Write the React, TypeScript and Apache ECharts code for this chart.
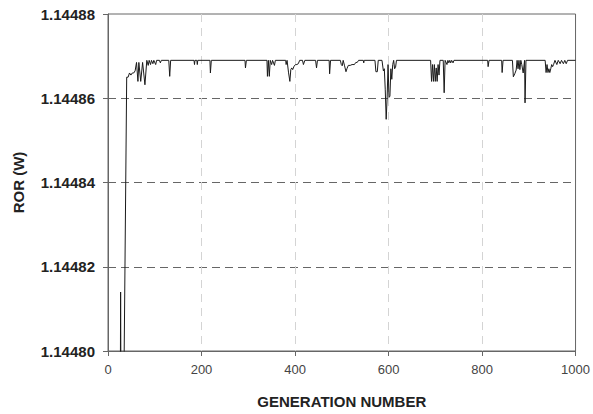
import React, { useEffect, useRef } from "react";
import * as echarts from "echarts";

const xTicks = [0, 200, 400, 600, 800, 1000];
const yTicks = [1.1448, 1.14482, 1.14484, 1.14486, 1.14488];

const generations = [
  0, 26, 27, 28, 33, 40, 43, 46, 49, 52, 55, 58, 61, 64, 66, 70, 74, 79, 83, 86,
  88, 91, 93, 96, 98, 102, 104, 110, 112, 114, 130, 132, 134, 184, 185, 186, 190, 191, 192, 218,
  219, 221, 293, 294, 296, 340, 341, 343, 345, 347, 350, 352, 356, 358, 380, 381, 383, 384, 386, 389,
  391, 393, 395, 398, 401, 404, 407, 410, 416, 418, 421, 444, 446, 448, 473, 474, 476, 497, 499, 501,
  503, 506, 509, 511, 514, 518, 522, 527, 530, 533, 536, 546, 547, 548, 571, 573, 576, 578, 586, 589,
  591, 593, 595, 597, 599, 601, 603, 605, 607, 609, 611, 613, 615, 617, 690, 692, 694, 696, 698, 700,
  702, 704, 706, 708, 710, 717, 719, 721, 725, 727, 729, 731, 733, 735, 738, 740, 812, 813, 815, 842,
  843, 845, 865, 867, 870, 873, 875, 877, 879, 881, 883, 885, 888, 891, 892, 894, 935, 937, 939, 941,
  943, 945, 947, 949, 951, 953, 956, 960, 963, 967, 970, 974, 977, 980, 983, 1000,
];

const rorValues = [
  1.14478, 1.14478, 1.144814, 1.14478, 1.14478, 1.144865, 1.144865, 1.144866, 1.1448655, 1.144866,
  1.144866, 1.1448665, 1.1448685, 1.144864, 1.1448685, 1.144864, 1.1448685, 1.1448632, 1.144869, 1.1448678,
  1.144869, 1.144868, 1.144869, 1.1448682, 1.144869, 1.144868, 1.144869, 1.144869, 1.1448684, 1.144869,
  1.144869, 1.1448652, 1.144869, 1.144869, 1.144868, 1.144869, 1.144869, 1.144868, 1.144869, 1.144869,
  1.144866, 1.144869, 1.144869, 1.1448672, 1.144869, 1.144869, 1.1448652, 1.144869, 1.1448652, 1.144869,
  1.144868, 1.144869, 1.1448678, 1.144869, 1.144869, 1.144868, 1.144869, 1.144869, 1.1448662, 1.144864,
  1.1448668, 1.1448672, 1.1448668, 1.1448676, 1.144868, 1.144868, 1.1448682, 1.144869, 1.144869, 1.144868,
  1.144869, 1.144869, 1.1448672, 1.144869, 1.144869, 1.1448658, 1.144869, 1.144869, 1.144868, 1.1448677,
  1.144869, 1.1448677, 1.1448663, 1.144867, 1.1448678, 1.1448678, 1.144868, 1.144868, 1.1448685, 1.1448685,
  1.144869, 1.144869, 1.1448684, 1.144869, 1.144869, 1.1448663, 1.1448663, 1.144869, 1.144869, 1.1448665,
  1.144867, 1.144862, 1.144855, 1.14486, 1.144868, 1.1448602, 1.1448605, 1.144867, 1.1448645, 1.144868,
  1.144869, 1.144867, 1.1448673, 1.144869, 1.144869, 1.144864, 1.144868, 1.144864, 1.144868, 1.144864,
  1.1448672, 1.144864, 1.144868, 1.1448655, 1.144869, 1.144869, 1.1448613, 1.144869, 1.144868, 1.144869,
  1.1448684, 1.144869, 1.1448684, 1.144869, 1.1448684, 1.144869, 1.144869, 1.1448675, 1.144869, 1.144869,
  1.1448661, 1.144869, 1.144869, 1.1448651, 1.1448658, 1.1448667, 1.144869, 1.144867, 1.144869, 1.1448668,
  1.144869, 1.144868, 1.144866, 1.144869, 1.1448589, 1.144869, 1.144869, 1.1448661, 1.144868, 1.1448661,
  1.144867, 1.1448661, 1.144867, 1.144868, 1.1448675, 1.144868, 1.144869, 1.144868, 1.144869, 1.1448682,
  1.144869, 1.1448682, 1.144869, 1.1448682, 1.144869, 1.144869,
];

export default function App() {
  const ref = useRef<HTMLDivElement>(null);

  useEffect(() => {
    if (!ref.current) return;
    document.body.style.margin = "0";
    document.body.style.overflow = "hidden";
    const chart = echarts.init(ref.current, null, { renderer: "svg" });
    const data = generations.map((g, i) => [g, rorValues[i]]);
    chart.setOption({
      animation: false,
      backgroundColor: "#ffffff",
      grid: {
        left: 108,
        right: 15,
        top: 14,
        bottom: 61,
        show: true,
        borderColor: "#666666",
        borderWidth: 1,
      },
      xAxis: {
        type: "value",
        min: xTicks[0],
        max: xTicks[xTicks.length - 1],
        interval: 200,
        name: "GENERATION NUMBER",
        nameLocation: "middle",
        nameGap: 43,
        nameTextStyle: {
          fontFamily: "Liberation Sans, Arial, sans-serif",
          fontWeight: "bold",
          fontSize: 15,
          color: "#222222",
        },
        axisLine: { show: true, lineStyle: { color: "#666666", width: 1 } },
        axisTick: { show: true, length: 5, inside: false, lineStyle: { color: "#666666" } },
        axisLabel: {
          margin: 12,
          fontFamily: "Liberation Sans, Arial, sans-serif",
          fontSize: 13,
          color: "#444444",
          formatter: (v: number) => String(v),
        },
        splitLine: {
          show: true,
          showMinLine: false,
          showMaxLine: false,
          lineStyle: { color: "#d4d4d4", type: [8, 6], width: 1 },
        },
      },
      yAxis: {
        type: "value",
        min: yTicks[0],
        max: yTicks[yTicks.length - 1],
        interval: 0.00002,
        name: "ROR (W)",
        nameLocation: "middle",
        nameGap: 82,
        nameTextStyle: {
          fontFamily: "Liberation Sans, Arial, sans-serif",
          fontWeight: "bold",
          fontSize: 15,
          color: "#222222",
        },
        axisLine: { show: true, lineStyle: { color: "#666666", width: 1 } },
        axisTick: { show: true, length: 5, inside: false, lineStyle: { color: "#666666" } },
        axisLabel: {
          margin: 13,
          fontFamily: "Liberation Sans, Arial, sans-serif",
          fontWeight: "bold",
          fontSize: 15,
          color: "#222222",
          formatter: (v: number) => v.toFixed(5),
        },
        splitLine: {
          show: true,
          showMinLine: false,
          showMaxLine: false,
          lineStyle: { color: "#666666", type: [8, 5], width: 1 },
        },
      },
      series: [
        {
          type: "line",
          data,
          showSymbol: false,
          clip: true,
          lineStyle: { color: "#1a1a1a", width: 1 },
        },
      ],
    });
    return () => chart.dispose();
  }, []);

  return (
    <div
      ref={ref}
      style={{ position: "absolute", left: 0, top: 0, width: 593, height: 414 }}
    />
  );
}
